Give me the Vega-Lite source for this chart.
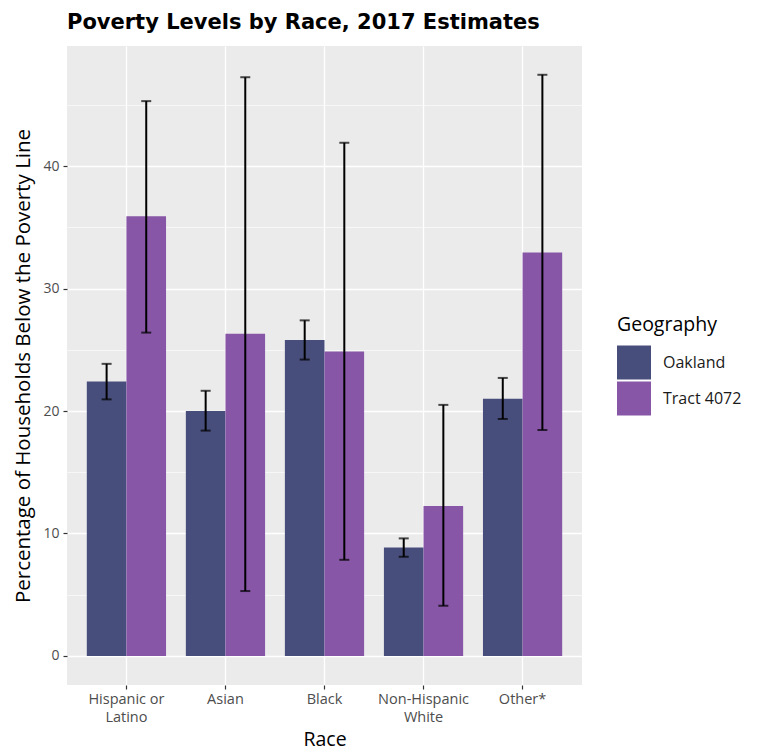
{
  "$schema": "https://vega.github.io/schema/vega-lite/v6.json",
  "autosize": "none",
  "width": 515,
  "height": 639,
  "padding": {"left": 67, "top": 46, "right": 178, "bottom": 68},
  "background": "white",
  "config": {
    "font": "Open Sans",
    "view": {"fill": "#EBEBEB", "stroke": null}
  },
  "title": {
    "text": "Poverty Levels by Race, 2017 Estimates",
    "anchor": "start",
    "frame": "group",
    "font": "DejaVu Sans",
    "fontSize": 21,
    "fontWeight": "bold",
    "color": "black",
    "offset": 13
  },
  "data": {
    "values": [
      {"race": "Hispanic or Latino", "geo": "Oakland", "pct": 22.4, "lower": 20.95, "upper": 23.85},
      {"race": "Hispanic or Latino", "geo": "Tract 4072", "pct": 35.9, "lower": 26.4, "upper": 45.3},
      {"race": "Asian", "geo": "Oakland", "pct": 20.0, "lower": 18.4, "upper": 21.65},
      {"race": "Asian", "geo": "Tract 4072", "pct": 26.3, "lower": 5.3, "upper": 47.25},
      {"race": "Black", "geo": "Oakland", "pct": 25.8, "lower": 24.2, "upper": 27.4},
      {"race": "Black", "geo": "Tract 4072", "pct": 24.85, "lower": 7.85, "upper": 41.9},
      {"race": "Non-Hispanic White", "geo": "Oakland", "pct": 8.85, "lower": 8.1, "upper": 9.6},
      {"race": "Non-Hispanic White", "geo": "Tract 4072", "pct": 12.25, "lower": 4.1, "upper": 20.5},
      {"race": "Other*", "geo": "Oakland", "pct": 21.0, "lower": 19.35, "upper": 22.7},
      {"race": "Other*", "geo": "Tract 4072", "pct": 32.95, "lower": 18.45, "upper": 47.45}
    ]
  },
  "encoding": {
    "x": {
      "field": "race",
      "type": "nominal",
      "sort": ["Hispanic or Latino", "Asian", "Black", "Non-Hispanic White", "Other*"],
      "scale": {"paddingInner": 0.2, "paddingOuter": 0.2},
      "axis": {
        "title": "Race",
        "titleFont": "Open Sans",
        "titleFontSize": 19.5,
        "titleFontWeight": "normal",
        "titleColor": "black",
        "titlePadding": 7,
        "labelAngle": 0,
        "labelFontSize": 14.5,
        "labelColor": "#4D4D4D",
        "labelPadding": 3,
        "labelLineHeight": 18,
        "labelExpr": "datum.value == 'Hispanic or Latino' ? ['Hispanic or', 'Latino'] : datum.value == 'Non-Hispanic White' ? ['Non-Hispanic', 'White'] : datum.label",
        "bandPosition": 0.5,
        "grid": true,
        "gridColor": "white",
        "gridWidth": 1.3,
        "domain": false,
        "tickColor": "#333333",
        "tickSize": 4,
        "tickWidth": 1.2
      }
    },
    "xOffset": {"field": "geo", "type": "nominal", "scale": {"paddingInner": 0, "paddingOuter": 0}}
  },
  "layer": [
    {
      "mark": {"type": "bar"},
      "encoding": {
        "y": {
          "field": "pct",
          "type": "quantitative",
          "scale": {"domain": [-2.37, 49.8], "nice": false, "zero": false},
          "axis": {
            "title": "Percentage of Households Below the Poverty Line",
            "titleFont": "Open Sans",
            "titleFontSize": 20.5,
            "titleFontWeight": "normal",
            "titleColor": "black",
            "titlePadding": 9,
            "values": [0, 5, 10, 15, 20, 25, 30, 35, 40, 45],
            "labelExpr": "datum.value % 10 == 0 ? datum.label : ''",
            "labelFontSize": 14,
            "labelColor": "#4D4D4D",
            "labelPadding": 4,
            "grid": true,
            "gridColor": "white",
            "gridWidth": {"condition": {"test": "datum.value % 10 != 0", "value": 0.6}, "value": 1.3},
            "domain": false,
            "tickColor": "#333333",
            "tickSize": 4,
            "tickWidth": 1.2,
            "tickOpacity": {"condition": {"test": "datum.value % 10 != 0", "value": 0}, "value": 1}
          }
        },
        "color": {
          "field": "geo",
          "type": "nominal",
          "scale": {"domain": ["Oakland", "Tract 4072"], "range": ["#484E7B", "#8856A7"]},
          "legend": {
            "title": "Geography",
            "orient": "none",
            "legendX": 550,
            "legendY": 270,
            "titleFont": "Open Sans",
            "titleFontSize": 19.5,
            "titleFontWeight": "normal",
            "titleColor": "black",
            "titlePadding": 10,
            "labelFont": "Open Sans",
            "labelFontSize": 16,
            "labelColor": "#1A1A1A",
            "labelOffset": 12,
            "symbolType": "square",
            "symbolSize": 1156,
            "symbolStrokeWidth": 0,
            "symbolOpacity": 1,
            "rowPadding": 2
          }
        }
      }
    },
    {
      "mark": {"type": "rule", "color": "black", "strokeWidth": 2},
      "encoding": {
        "y": {"field": "lower", "type": "quantitative"},
        "y2": {"field": "upper"}
      }
    },
    {
      "mark": {"type": "tick", "color": "black", "thickness": 2, "size": 10},
      "encoding": {
        "y": {"field": "lower", "type": "quantitative"}
      }
    },
    {
      "mark": {"type": "tick", "color": "black", "thickness": 2, "size": 10},
      "encoding": {
        "y": {"field": "upper", "type": "quantitative"}
      }
    }
  ]
}
